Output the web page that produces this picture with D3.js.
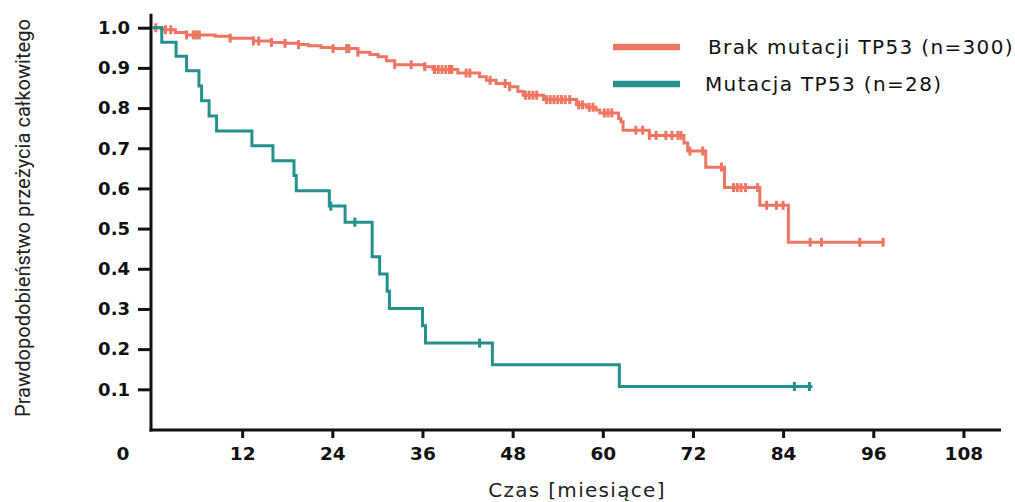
<!DOCTYPE html>
<html lang="pl">
<head>
  <meta charset="UTF-8" />
  <title>Krzywe przeżycia całkowitego - TP53</title>
  <script src="https://d3js.org/d3.v7.min.js"></script>
  <style>
    body { margin: 0; background: #fff; }
    svg { display: block; }
    .tick text { font-family: "DejaVu Sans", sans-serif; font-weight: bold; fill: #111; }
  </style>
</head>
<body>
  <svg width="1015" height="502"></svg>
  <script>
    // krzywa Kaplana-Meiera: czasy spadków [miesiące] i przeżycie po spadku
    const noMutTimes = [0, 1.3, 3.1, 4.6, 8.4, 10.4, 13.5, 15.9, 17.7, 19.5, 20.8, 22.5, 24.1, 27.4, 29.0, 30.1,
      31.2, 32.3, 36.3, 37.4, 40.7, 43.6, 44.5, 45.8, 47.6, 48.7, 49.4, 52.1, 56.5, 57.8, 59.1, 59.6,
      62.1, 62.4, 62.7, 66.2, 70.8, 71.3, 73.7, 76.2, 80.9, 84.7, 97.5];
    const noMutSurv = [1.0, 0.995, 0.988, 0.982, 0.979, 0.974, 0.967, 0.963, 0.961, 0.958, 0.955, 0.951, 0.948, 0.939, 0.933, 0.928,
      0.918, 0.908, 0.903, 0.896, 0.887, 0.878, 0.869, 0.861, 0.853, 0.841, 0.832, 0.821, 0.808, 0.802, 0.795, 0.788,
      0.774, 0.766, 0.745, 0.732, 0.713, 0.693, 0.653, 0.602, 0.558, 0.466, 0.466];
    const noMutCensored = [0.5, 1.8, 2.5, 4.6, 5.5, 5.9, 6.3, 10.4, 13.5, 14.2, 15.9, 17.7, 19.5, 24.1, 25.9, 26.2,
      27.4, 32.3, 34.5, 36.3, 37.6, 38.1, 38.6, 39.1, 39.6, 39.9, 41.8, 42.3, 45.0, 47.0, 47.6, 49.7, 50.2, 50.7,
      51.2, 52.5, 53.0, 53.5, 54.0, 54.5, 55.0, 55.6, 56.8, 57.3, 58.2, 58.7, 60.2, 60.7, 61.2, 64.4, 65.3, 66.2,
      67.1, 68.4, 69.2, 70.0, 70.4, 71.6, 73.3, 75.8, 77.4, 77.9, 78.4, 79.0, 80.6, 81.8, 83.1, 84.0, 87.6, 89.1,
      94.2, 97.3];

    const mutTimes = [0, 1.3, 3.2, 4.6, 6.25, 6.6, 7.6, 8.6, 13.3, 16.1, 18.9, 19.2, 23.6, 25.7, 29.3, 30.3,
      31.3, 31.6, 36.0, 36.4, 45.3, 62.2, 87.9];
    const mutSurv = [1.0, 0.964, 0.929, 0.893, 0.855, 0.818, 0.78, 0.743, 0.706, 0.669, 0.632, 0.594, 0.556, 0.516, 0.43, 0.387,
      0.344, 0.301, 0.258, 0.215, 0.161, 0.107, 0.107];
    const mutCensored = [23.8, 27.0, 43.6, 85.5, 87.5];

    const seriesNames = ["Brak mutacji TP53 (n=300)", "Mutacja TP53 (n=28)"];
    const seriesColors = ["#ee7662", "#23918c"];

    const xTicks = [12, 24, 36, 48, 60, 72, 84, 96, 108];
    const yTicks = [0.1, 0.2, 0.3, 0.4, 0.5, 0.6, 0.7, 0.8, 0.9, 1.0];

    const svg = d3.select("svg");
    const x = d3.scaleLinear().domain([0, 113]).range([152, 1001]);
    const y = d3.scaleLinear().domain([0, 1]).range([429.5, 27.7]);
    const axisY = 430;

    // osie
    const gx = svg.append("g")
      .attr("transform", `translate(0,${axisY})`)
      .call(d3.axisBottom(x).tickValues(xTicks).tickSize(8).tickSizeOuter(0).tickPadding(9));
    gx.select(".domain").remove();
    gx.selectAll(".tick line").attr("stroke", "#111").attr("stroke-width", 3);
    gx.selectAll(".tick text").attr("font-size", 18.5).attr("dy", "0.71em");

    const gy = svg.append("g")
      .attr("transform", `translate(${x(0) - 1},0)`)
      .call(d3.axisLeft(y).tickValues(yTicks).tickFormat(d3.format(".1f")).tickSize(13).tickSizeOuter(0).tickPadding(8));
    gy.select(".domain").remove();
    gy.selectAll(".tick line").attr("stroke", "#111").attr("stroke-width", 3);
    gy.selectAll(".tick text").attr("font-size", 18);

    svg.append("line")
      .attr("x1", x(0) - 1).attr("x2", x(0) - 1)
      .attr("y1", y(1.035)).attr("y2", axisY + 1.5)
      .attr("stroke", "#111").attr("stroke-width", 3);
    svg.append("line")
      .attr("x1", x(0) - 2.5).attr("x2", x(113))
      .attr("y1", axisY).attr("y2", axisY)
      .attr("stroke", "#111").attr("stroke-width", 3);

    svg.append("text")
      .attr("x", x(0) - 29).attr("y", axisY + 17)
      .attr("dy", "0.71em")
      .attr("text-anchor", "middle")
      .attr("font-family", "DejaVu Sans, sans-serif").attr("font-weight", "bold")
      .attr("font-size", 18.5).attr("fill", "#111")
      .text("0");

    // krzywe
    const line = d3.line()
      .x(d => x(d[0]))
      .y(d => y(d[1]))
      .curve(d3.curveStepAfter);

    function stepValue(times, surv, t) {
      const i = d3.bisectRight(times, t) - 1;
      return surv[Math.max(0, i)];
    }

    const series = [
      { times: noMutTimes, surv: noMutSurv, cens: noMutCensored, color: seriesColors[0] },
      { times: mutTimes, surv: mutSurv, cens: mutCensored, color: seriesColors[1] }
    ];

    series.forEach(s => {
      const pts = s.times.map((t, i) => [t, s.surv[i]]);
      svg.append("path")
        .datum(pts)
        .attr("fill", "none")
        .attr("stroke", s.color)
        .attr("stroke-width", 3)
        .attr("d", line);

      svg.append("g").selectAll("line")
        .data(s.cens)
        .join("line")
        .attr("x1", d => x(d)).attr("x2", d => x(d))
        .attr("y1", d => y(stepValue(s.times, s.surv, d)) - 4.5)
        .attr("y2", d => y(stepValue(s.times, s.surv, d)) + 4.5)
        .attr("stroke", s.color)
        .attr("stroke-width", 3);
    });

    // legenda
    const legend = svg.append("g");
    const legendY = [47, 84];
    const legendTextX = [708, 705];
    seriesNames.forEach((name, i) => {
      legend.append("line")
        .attr("x1", 613).attr("x2", 680)
        .attr("y1", legendY[i]).attr("y2", legendY[i])
        .attr("stroke", seriesColors[i]).attr("stroke-width", 6.5);
      legend.append("text")
        .attr("x", legendTextX[i]).attr("y", legendY[i])
        .attr("dy", "0.36em")
        .attr("font-family", "DejaVu Sans, sans-serif")
        .attr("font-size", 20).attr("letter-spacing", 1.35).attr("fill", "#111")
        .text(name);
    });

    // tytuły osi
    svg.append("text")
      .attr("x", 577).attr("y", 497)
      .attr("text-anchor", "middle")
      .attr("font-family", "DejaVu Sans, sans-serif")
      .attr("font-size", 20).attr("letter-spacing", 1.3).attr("fill", "#222")
      .text("Czas [miesiące]");

    svg.append("text")
      .attr("transform", "translate(30,218) rotate(-90)")
      .attr("text-anchor", "middle")
      .attr("font-family", "Liberation Sans Narrow, Roboto, sans-serif")
      .attr("font-size", 20).attr("fill", "#222")
      .attr("textLength", 398).attr("lengthAdjust", "spacingAndGlyphs")
      .text("Prawdopodobieństwo przeżycia całkowitego");
  </script>
</body>
</html>
